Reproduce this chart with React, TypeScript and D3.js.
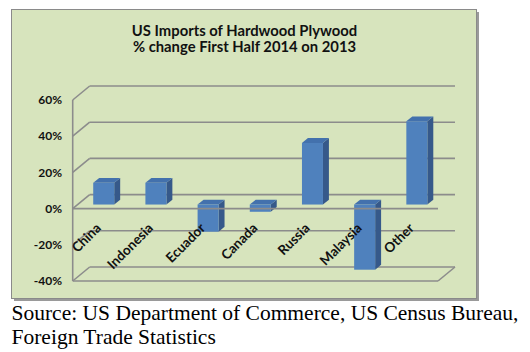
import { useEffect, useRef } from 'react'
import * as d3 from 'd3'

const categories = ['China', 'Indonesia', 'Ecuador', 'Canada', 'Russia', 'Malaysia', 'Other']
const values = [0.12, 0.12, -0.15, -0.04, 0.34, -0.36, 0.46]
const ticks = [-0.4, -0.2, 0, 0.2, 0.4, 0.6]
const titleLines = ['US Imports of Hardwood Plywood', '% change First Half 2014 on 2013']
const sourceLines = ['Source: US Department of Commerce, US Census Bureau,', 'Foreign Trade Statistics']

export default function App() {
  const ref = useRef<SVGSVGElement | null>(null)
  useEffect(() => {
    if (!ref.current) return
    const svg = d3.select(ref.current)
    svg.selectAll('*').remove()

    // oblique depth of the plot box
    const DX = 17
    const DY = 14
    const left = 72.7
    const right = 438
    const grid = '#8c8c8c'

    const yBack = d3.scaleLinear().domain([-0.4, 0.6]).range([267, 86])
    const yFront = (v: number) => yBack(v) + DY
    const x = d3.scaleBand().domain(categories).range([left, right])

    // chart area box with shadow
    svg.append('rect').attr('x', 14).attr('y', 12).attr('width', 465).attr('height', 289).attr('fill', '#9a9a9a')
    svg
      .append('rect')
      .attr('x', 11.5)
      .attr('y', 9.5)
      .attr('width', 465)
      .attr('height', 289)
      .attr('fill', '#d7e4bd')
      .attr('stroke', '#8a8a8a')
      .attr('stroke-width', 1)

    const title = svg
      .append('g')
      .attr('font-family', 'Lato')
      .attr('font-weight', 'bold')
      .attr('font-size', 14.8)
      .attr('fill', '#111')
    titleLines.forEach((t, i) => {
      title
        .append('text')
        .attr('text-anchor', 'middle')
        .attr('x', 244.5)
        .attr('y', 36 + i * 15.5)
        .text(t)
    })

    // walls and gridlines
    const g = svg.append('g').attr('stroke', grid).attr('stroke-width', 1.6).attr('fill', 'none')
    ticks.forEach((t) => {
      g.append('line')
        .attr('x1', left)
        .attr('y1', yFront(t))
        .attr('x2', left + DX)
        .attr('y2', yBack(t))
      g.append('line')
        .attr('x1', left + DX)
        .attr('y1', yBack(t))
        .attr('x2', right + DX)
        .attr('y2', yBack(t))
    })
    g.append('line').attr('x1', left).attr('y1', yFront(0.6)).attr('x2', left).attr('y2', yFront(-0.4))
    g.append('line').attr('x1', left).attr('y1', yFront(-0.4)).attr('x2', right).attr('y2', yFront(-0.4))
    g.append('line')
      .attr('x1', right)
      .attr('y1', yFront(-0.4))
      .attr('x2', right + DX)
      .attr('y2', yBack(-0.4))

    // bars
    const d0 = 0.29
    const d1 = 0.64
    const bw = 21
    const bars = svg.append('g')
    categories.forEach((c, i) => {
      const v = values[i]
      const cx = x(c)! + x.bandwidth() / 2
      const x0 = cx - bw / 2 + DX * d0
      const x1 = x0 + bw
      const yTop = yFront(Math.max(v, 0)) - DY * d0
      const yBot = yFront(Math.min(v, 0)) - DY * d0
      const ox = DX * (d1 - d0)
      const oy = DY * (d1 - d0)
      bars
        .append('path')
        .attr('d', `M${x1},${yTop}L${x1 + ox},${yTop - oy}L${x1 + ox},${yBot - oy}L${x1},${yBot}Z`)
        .attr('fill', '#36598a')
      bars
        .append('path')
        .attr('d', `M${x0},${yTop}L${x0 + ox},${yTop - oy}L${x1 + ox},${yTop - oy}L${x1},${yTop}Z`)
        .attr('fill', '#4371ad')
      bars
        .append('rect')
        .attr('x', x0)
        .attr('y', yTop)
        .attr('width', bw)
        .attr('height', yBot - yTop)
        .attr('fill', '#4f81bd')
    })

    // front zero line
    svg
      .append('line')
      .attr('x1', left)
      .attr('y1', yFront(0))
      .attr('x2', right)
      .attr('y2', yFront(0))
      .attr('stroke', grid)
      .attr('stroke-width', 1.6)

    // y labels
    svg
      .append('g')
      .selectAll('text')
      .data(ticks)
      .enter()
      .append('text')
      .attr('x', 62)
      .attr('y', (d) => yFront(d))
      .attr('dy', '0.35em')
      .attr('text-anchor', 'end')
      .attr('font-family', 'Lato')
      .attr('font-weight', 'bold')
      .attr('font-size', 12)
      .attr('fill', '#111')
      .text((d) => `${Math.round(d * 100)}%`)

    // category labels
    svg
      .append('g')
      .selectAll('text')
      .data(categories)
      .enter()
      .append('text')
      .attr('transform', (d) => `translate(${x(d)! + x.bandwidth() / 2 + 3},${229}) rotate(-45)`)
      .attr('text-anchor', 'end')
      .attr('font-family', 'Lato')
      .attr('font-weight', 'bold')
      .attr('font-size', 13.5)
      .attr('fill', '#111')
      .text((d) => d)

    // source note
    const src = svg
      .append('g')
      .attr('font-family', 'Liberation Serif')
      .attr('font-size', 21.5)
      .attr('fill', '#000')
    sourceLines.forEach((t, i) => {
      src.append('text').attr('x', 11.5).attr('y', 319.5 + i * 24).text(t)
    })
  }, [])
  return (
    <svg
      ref={ref}
      width={530}
      height={352}
      style={{ position: 'absolute', left: 0, top: 0, background: '#fff' }}
    />
  )
}
